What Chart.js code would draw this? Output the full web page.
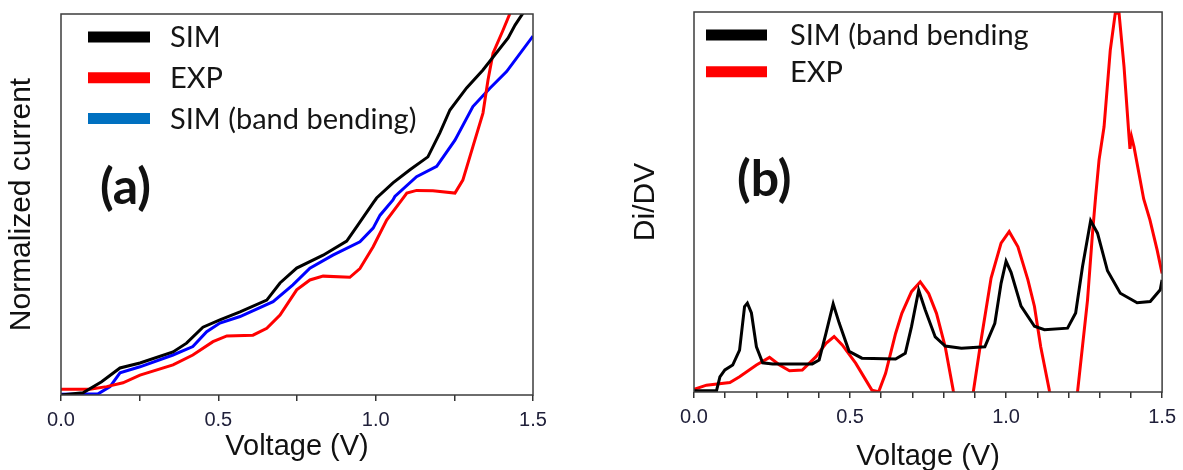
<!DOCTYPE html>
<html>
<head>
<meta charset="utf-8">
<script src="https://cdn.jsdelivr.net/npm/chart.js@4.4.0/dist/chart.umd.min.js"></script>
<style>
html, body { margin: 0; padding: 0; background: #fff; width: 1183px; height: 470px; overflow: hidden; }
#wrapA { position: absolute; left: 0; top: 0; width: 560px; height: 470px; }
#wrapB { position: absolute; left: 620px; top: 0; width: 563px; height: 480px; }
</style>
</head>
<body>
<div id="wrapA"><canvas id="canvasA" width="560" height="470"></canvas></div>
<div id="wrapB"><canvas id="canvasB" width="563" height="480"></canvas></div>
<script>
// (a) normalized current vs voltage
const simV = [0, 0.07, 0.129, 0.1875, 0.251, 0.356, 0.399, 0.451, 0.505, 0.569, 0.654, 0.696, 0.749, 0.833, 0.908, 0.940, 0.992, 1.003, 1.055, 1.109, 1.166, 1.204, 1.236, 1.289, 1.341, 1.421, 1.443, 1.468, 1.49];
const simI = [0, 0.006, 0.035, 0.071, 0.084, 0.113, 0.136, 0.178, 0.197, 0.218, 0.249, 0.294, 0.333, 0.367, 0.404, 0.442, 0.504, 0.517, 0.557, 0.591, 0.625, 0.688, 0.748, 0.806, 0.853, 0.937, 0.971, 1.002, 1.04];

const expV = [0, 0.092, 0.145, 0.197, 0.251, 0.356, 0.419, 0.483, 0.527, 0.610, 0.654, 0.696, 0.749, 0.791, 0.833, 0.918, 0.950, 0.992, 1.035, 1.083, 1.099, 1.130, 1.182, 1.252, 1.277, 1.309, 1.341, 1.357, 1.373, 1.405, 1.427, 1.443];
const expI = [0.015, 0.015, 0.022, 0.032, 0.052, 0.079, 0.105, 0.140, 0.155, 0.157, 0.175, 0.210, 0.276, 0.302, 0.312, 0.309, 0.332, 0.389, 0.459, 0.512, 0.530, 0.537, 0.536, 0.530, 0.564, 0.652, 0.740, 0.827, 0.897, 0.958, 1.002, 1.04];

const bandV = [0, 0.118, 0.156, 0.1875, 0.251, 0.356, 0.419, 0.463, 0.505, 0.569, 0.674, 0.737, 0.791, 0.864, 0.950, 0.992, 1.014, 1.055, 1.061, 1.130, 1.194, 1.252, 1.309, 1.363, 1.416, 1.5];
const bandI = [0.002, 0.003, 0.022, 0.058, 0.074, 0.105, 0.127, 0.166, 0.189, 0.206, 0.245, 0.289, 0.333, 0.367, 0.402, 0.438, 0.472, 0.512, 0.521, 0.573, 0.600, 0.669, 0.757, 0.805, 0.849, 0.942];

// (b) Di/DV vs voltage
const bbV = [0, 0.072, 0.083, 0.099, 0.124, 0.146, 0.162, 0.171, 0.184, 0.200, 0.220, 0.252, 0.379, 0.401, 0.423, 0.446, 0.465, 0.497, 0.538, 0.646, 0.677, 0.697, 0.720, 0.741, 0.773, 0.805, 0.857, 0.932, 0.964, 0.984, 1.000, 1.016, 1.048, 1.091, 1.123, 1.197, 1.223, 1.245, 1.271, 1.293, 1.325, 1.366, 1.420, 1.462, 1.494, 1.5];
const bbG = [0.003, 0.003, 0.040, 0.058, 0.071, 0.110, 0.225, 0.234, 0.208, 0.119, 0.077, 0.074, 0.074, 0.084, 0.155, 0.232, 0.182, 0.107, 0.089, 0.087, 0.102, 0.172, 0.268, 0.216, 0.145, 0.121, 0.115, 0.119, 0.181, 0.286, 0.344, 0.315, 0.226, 0.173, 0.164, 0.168, 0.208, 0.330, 0.451, 0.418, 0.319, 0.260, 0.235, 0.238, 0.269, 0.295];

const expbV = [0, 0.040, 0.115, 0.146, 0.200, 0.242, 0.274, 0.306, 0.347, 0.391, 0.423, 0.449, 0.475, 0.518, 0.570, 0.592, 0.614, 0.646, 0.666, 0.697, 0.725, 0.752, 0.777, 0.805, 0.831, 0.865, 0.895, 0.920, 0.952, 0.984, 1.010, 1.038, 1.070, 1.091, 1.111, 1.139, 1.18, 1.229, 1.261, 1.277, 1.287, 1.298, 1.314, 1.334, 1.350, 1.362, 1.378, 1.394, 1.397, 1.402, 1.410, 1.441, 1.461, 1.484, 1.5];
const expbG = [0.007, 0.018, 0.025, 0.040, 0.071, 0.091, 0.071, 0.056, 0.058, 0.093, 0.128, 0.146, 0.124, 0.076, 0.005, 0.001, 0.049, 0.154, 0.207, 0.264, 0.290, 0.259, 0.207, 0.119, 0.003, -0.08, 0.0, 0.137, 0.300, 0.392, 0.422, 0.382, 0.295, 0.225, 0.119, 0.003, -0.1, 0.0, 0.242, 0.418, 0.514, 0.611, 0.698, 0.900, 0.997, 0.997, 0.856, 0.672, 0.640, 0.672, 0.645, 0.508, 0.453, 0.374, 0.312];

const tickLabelsA = ['0.0', '0.5', '1.0', '1.5'];

function pts(xs, ys) {
    return xs.map((x, i) => ({ x: x, y: ys[i] }));
}

// frame round the plot, legend inside it and the (a)/(b) tag
const panelDecor = {
    id: 'panelDecor',
    afterDatasetsDraw(chart, args, o) {
        const ctx = chart.ctx;
        const a = chart.chartArea;
        ctx.save();
        ctx.strokeStyle = '#3c3c3c';
        ctx.lineWidth = 1.5;
        ctx.strokeRect(a.left, a.top, a.right - a.left, a.bottom - a.top);

        ctx.font = '29px Lato';
        ctx.textBaseline = 'alphabetic';
        chart.data.datasets.forEach((ds, i) => {
            const y = o.legendY + i * o.legendDy;
            ctx.strokeStyle = ds.legendColor || ds.borderColor;
            ctx.lineWidth = 11;
            ctx.lineCap = 'butt';
            ctx.beginPath();
            ctx.moveTo(o.lineX0, y);
            ctx.lineTo(o.lineX1, y);
            ctx.stroke();
            ctx.fillStyle = '#151515';
            ctx.fillText(ds.label, o.textX, y + 10);
        });

        ctx.font = 'bold 50px Lato';
        ctx.fillStyle = '#111';
        ctx.fillText(o.tag, o.tagX, o.tagY);
        ctx.restore();
    }
};

function xAxis(step, height) {
    return {
        type: 'linear',
        min: 0,
        max: 1.5,
        ticks: {
            stepSize: step,
            autoSkip: false,
            maxRotation: 0,
            padding: 7,
            color: '#20203a',
            font: { family: 'Liberation Sans', size: 20 },
            callback: v => {
                const k = Math.round(v * 2);
                return Math.abs(v * 2 - k) < 1e-6 ? tickLabelsA[k] : '';
            }
        },
        grid: { drawOnChartArea: false, drawTicks: true, tickLength: 6, color: '#333', lineWidth: 1.5 },
        border: { display: false },
        title: {
            display: true,
            text: 'Voltage (V)',
            color: '#111',
            font: { family: 'Liberation Sans', size: 29 },
            padding: { top: 0, bottom: 6 }
        },
        afterFit(s) { s.height = height; }
    };
}

function yAxis(title, width, pad) {
    return {
        min: 0,
        max: 1,
        ticks: { display: false },
        grid: { display: false },
        border: { display: false },
        title: {
            display: true,
            text: title,
            color: '#111',
            font: { family: 'Liberation Sans', size: 30 },
            padding: { top: pad, bottom: 0 }
        },
        afterFit(s) { s.width = width; }
    };
}

const lineStyle = { pointRadius: 0, borderWidth: 3, tension: 0, clip: 0, fill: false };

new Chart(document.getElementById('canvasA').getContext('2d'), {
    type: 'line',
    data: {
        datasets: [
            Object.assign({ label: 'SIM', data: pts(simV, simI), borderColor: '#000000' }, lineStyle),
            Object.assign({ label: 'EXP', data: pts(expV, expI), borderColor: '#ff0000' }, lineStyle),
            Object.assign({ label: 'SIM (band bending)', data: pts(bandV, bandI), borderColor: '#0000ff', legendColor: '#0070c0' }, lineStyle)
        ]
    },
    options: {
        responsive: false,
        animation: false,
        layout: { padding: { top: 14, right: 27, bottom: 0, left: 0 } },
        scales: { x: xAxis(0.25, 75), y: yAxis('Normalized current', 61, 4) },
        plugins: {
            legend: { display: false },
            tooltip: { enabled: false },
            panelDecor: { legendY: 37, legendDy: 40.8, lineX0: 88, lineX1: 150, textX: 170, tag: '(a)', tagX: 100, tagY: 204 }
        }
    },
    plugins: [panelDecor]
});

new Chart(document.getElementById('canvasB').getContext('2d'), {
    type: 'line',
    data: {
        datasets: [
            Object.assign({ label: 'SIM (band bending', data: pts(bbV, bbG), borderColor: '#000000' }, lineStyle),
            Object.assign({ label: 'EXP', data: pts(expbV, expbG), borderColor: '#ff0000' }, lineStyle)
        ]
    },
    options: {
        responsive: false,
        animation: false,
        layout: { padding: { top: 12, right: 18, bottom: 0, left: 0 } },
        scales: { x: xAxis(0.1, 88), y: yAxis('Di/DV', 74, 8) },
        plugins: {
            legend: { display: false },
            tooltip: { enabled: false },
            panelDecor: { legendY: 35, legendDy: 36.7, lineX0: 86, lineX1: 147, textX: 170, tag: '(b)', tagX: 117, tagY: 196 }
        }
    },
    plugins: [panelDecor]
});
</script>
</body>
</html>
